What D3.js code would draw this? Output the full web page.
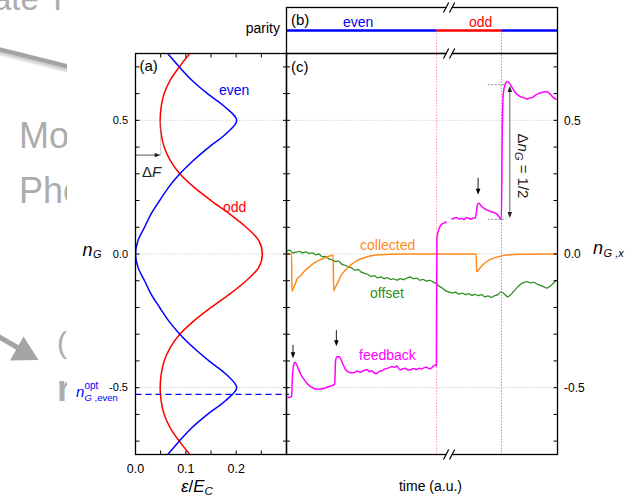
<!DOCTYPE html>
<html><head><meta charset="utf-8">
<script src="https://cdn.jsdelivr.net/npm/d3@7"></script>
<style>body{margin:0;background:#fff}svg{display:block}text{font-family:"Liberation Sans",Arial,Helvetica,sans-serif}</style>
</head><body><svg id="chart" width="633" height="497"></svg>
<script>
// ---------- data ----------
const nGrid = [-0.75,-0.70,-0.65,-0.60,-0.55,-0.50,-0.45,-0.40,-0.35,-0.30,-0.25,-0.20,-0.15,-0.10,-0.05,0,0.05,0.10,0.15,0.20,0.25,0.30,0.35,0.40,0.45,0.50,0.55,0.60,0.65,0.70,0.75];
const evenEnergy = [0.064,0.087,0.112,0.143,0.178,0.201,0.180,0.146,0.115,0.088,0.066,0.048,0.031,0.018,0.005,0.000,0.005,0.018,0.031,0.048,0.066,0.088,0.115,0.146,0.180,0.201,0.178,0.143,0.112,0.087,0.064];
const oddEnergy = [0.108,0.087,0.069,0.057,0.051,0.049,0.051,0.057,0.069,0.088,0.116,0.150,0.187,0.220,0.245,0.252,0.245,0.220,0.187,0.150,0.116,0.088,0.069,0.057,0.051,0.049,0.051,0.057,0.069,0.087,0.108];
const nGOptEven = -0.525;
const deltaF = {energy:0.05, nTop:0.5, nArrow:0.37};

const collectedTime  = [0,1.9,2.0,2.5,3.3,3.9,5.1,7.0,8.8,10.0,12.5,13.7,15.0,17.2,17.4,18.0,19.0,19.9,22.3,24.0,26.0,29.0,30.9,33.0,38.2,45.0,70.0,70.15,71.3,72.5,73.8,75.5,77.5,79.5,81.1,84.0,88.0,100];
const collectedValue = [0,0,-0.140,-0.128,-0.110,-0.093,-0.082,-0.060,-0.045,-0.035,-0.021,-0.016,-0.011,-0.005,-0.138,-0.125,-0.105,-0.085,-0.054,-0.039,-0.025,-0.013,-0.0075,-0.004,-0.001,0,0,-0.066,-0.054,-0.040,-0.029,-0.019,-0.012,-0.007,-0.004,-0.002,-0.0005,0];

const offsetTime  = [0,1.2,2.4,3.6,4.8,6,7.2,8.4,9.6,10.8,12,13.2,14.4,15.6,16.8,18,19.2,20.4,21.6,22.8,24,25.2,26.4,27.6,28.8,30,31.2,32.4,33.6,34.8,36,37.2,38.4,39.6,40.8,42,43.2,44.4,45.6,46.8,48,49.2,50.4,51.6,52.8,54,55.2,56.4,57.6,58.8,60,61.2,62.4,63.6,64.8,66,67.2,68.4,69.6,70.8,72,73.2,74.4,75.6,76.8,78,79.2,80.4,81.6,82.8,84,85.2,86.4,87.6,88.8,90,91.2,92.4,93.6,94.8,96,97.2,98.4,99.6];
const offsetValue = [0.012,0.014,0.004,0.007,0.010,0.004,0.008,0.002,0.004,-0.003,0.000,-0.010,-0.009,-0.018,-0.022,-0.028,-0.027,-0.038,-0.042,-0.048,-0.052,-0.060,-0.058,-0.068,-0.072,-0.076,-0.084,-0.081,-0.089,-0.086,-0.092,-0.088,-0.095,-0.093,-0.098,-0.092,-0.096,-0.090,-0.086,-0.092,-0.090,-0.098,-0.095,-0.101,-0.099,-0.104,-0.110,-0.121,-0.128,-0.138,-0.142,-0.146,-0.143,-0.150,-0.146,-0.152,-0.148,-0.155,-0.151,-0.156,-0.152,-0.160,-0.157,-0.162,-0.156,-0.152,-0.142,-0.150,-0.160,-0.152,-0.138,-0.124,-0.113,-0.106,-0.103,-0.108,-0.106,-0.112,-0.117,-0.122,-0.128,-0.121,-0.110,-0.098];

const feedbackTime  = [0.4,1.5,1.9,2.1,2.4,2.8,3.2,3.9,5.1,6.5,7.6,9.2,11.3,13.7,16.2,17.4,17.8,18.1,18.6,19.5,20.5,21.8,23.0,24.8,26.0,27.2,28.5,29.7,30.6,31.5,32.4,33.3,34.2,35.2,36.1,37.0,38.0,38.9,39.8,40.7,41.9,42.8,43.8,44.7,45.6,46.8,48.0,49.0,49.9,50.8,51.7,52.6,53.6,54.3,54.8,55.3,55.5,55.9,56.6,57.7,59.1,
  60.0,
  60.9,61.8,62.8,63.7,64.6,65.5,66.4,67.3,68.3,69.0,69.6,70.0,70.4,70.8,71.4,72.0,72.8,73.8,74.7,75.7,76.6,77.5,78.2,78.8,79.3,79.6,80.0,80.7,81.4,82.2,83.1,84.2,85.3,86.4,87.5,88.6,89.7,90.8,91.9,93.0,94.1,95.2,96.3,97.4,98.5,99.6];
const feedbackValue = [-0.537,-0.535,-0.530,-0.480,-0.430,-0.410,-0.405,-0.418,-0.447,-0.470,-0.484,-0.498,-0.506,-0.503,-0.494,-0.490,-0.485,-0.400,-0.384,-0.384,-0.405,-0.432,-0.442,-0.444,-0.438,-0.442,-0.436,-0.433,-0.440,-0.437,-0.445,-0.447,-0.439,-0.437,-0.431,-0.428,-0.425,-0.421,-0.424,-0.419,-0.434,-0.430,-0.427,-0.433,-0.434,-0.428,-0.432,-0.427,-0.430,-0.425,-0.424,-0.429,-0.426,-0.418,-0.416,-0.418,0.059,0.082,0.102,0.114,0.120,
  NaN,
  0.130,0.134,0.137,0.131,0.133,0.129,0.137,0.133,0.131,0.135,0.134,0.150,0.182,0.190,0.186,0.178,0.172,0.165,0.162,0.157,0.155,0.150,0.142,0.135,0.130,0.450,0.600,0.635,0.645,0.640,0.625,0.607,0.595,0.588,0.585,0.580,0.583,0.586,0.594,0.600,0.604,0.607,0.606,0.597,0.585,0.578];

const parityEdges  = [0, 55.4, 79.3, 100];
const parityStates = ["even", "odd", "even"];
const breakTime = 60;
const kickTimes = [2.4, 18.4, 70.7];
const kickFrom  = [-0.34, -0.285, 0.285];
const kickTo    = [-0.39, -0.345, 0.222];
const stepLow = 0.13, stepHigh = 0.633, stepArrowTime = 82.4;

const yTicks = [-0.7,-0.6,-0.5,-0.4,-0.3,-0.2,-0.1,0,0.1,0.2,0.3,0.4,0.5,0.6,0.7];
const yTickLabels = [-0.5, 0, 0.5];
const xATicks = [0.05,0.1,0.15,0.2,0.25];
const xATickLabels = [0, 0.1, 0.2];

// ---------- setup ----------
const svg = d3.select("#chart");
svg.append("rect").attr("width",633).attr("height",497).attr("fill","#fff");
const xA = d3.scaleLinear().domain([0,0.3]).range([135.5,286.5]);
const xC = d3.scaleLinear().domain([0,100]).range([286.5,557.5]);
const y  = d3.scaleLinear().domain([-0.75,0.75]).range([454.5,53.5]);
const yB = {top:7.5, bottom:53.5, line:30.5};
const BLUE="#0000ff", RED="#ff0000", MAG="#ff00ff", ORANGE="#ff8a1c", GREEN="#2f8f22";
const defs = svg.append("defs");
const fmt = v => d3.format(".1f")(v).replace("\u2212","-");

// ---------- faded background (slide remnants) ----------
defs.append("clipPath").attr("id","bgclip").append("rect").attr("x",0).attr("y",0).attr("width",67).attr("height",497);
defs.append("filter").attr("id","blur").append("feGaussianBlur").attr("stdDeviation",1.2);
const bg = svg.append("g").attr("clip-path","url(#bgclip)");
const gcol="#acacac";
bg.append("text").attr("x",-7).attr("y",10).attr("font-size",33).attr("fill",gcol).text("ate T");
bg.append("line").attr("x1",-2).attr("y1",51).attr("x2",70).attr("y2",69.5).attr("stroke","#d0d0d0").attr("stroke-width",6).attr("filter","url(#blur)");
bg.append("line").attr("x1",-2).attr("y1",49).attr("x2",70).attr("y2",67).attr("stroke","#a4a4a4").attr("stroke-width",4.5);
bg.append("text").attr("x",19).attr("y",148).attr("font-size",36).attr("fill",gcol).text("Mo");
bg.append("text").attr("x",19).attr("y",203).attr("font-size",36).attr("fill",gcol).text("Pho");
bg.append("line").attr("x1",-4).attr("y1",335).attr("x2",20).attr("y2",349).attr("stroke","#a4a4a4").attr("stroke-width",5);
bg.append("path").attr("d","M23.5,336.5 L10,360.5 L38.5,360 Z").attr("fill","#a4a4a4");
bg.append("text").attr("x",57).attr("y",353).attr("font-size",30).attr("fill",gcol).text("(");
bg.append("text").attr("x",57).attr("y",401).attr("font-size",36).attr("font-weight","bold").attr("fill",gcol).text("r");

// ---------- grid ----------
const grid = svg.append("g");
yTickLabels.forEach(v=>{
  grid.append("line").attr("x1",xA(0)).attr("x2",xC(100)).attr("y1",y(v)).attr("y2",y(v))
    .attr("stroke","#c8c8c8").attr("stroke-width",0.9).attr("stroke-dasharray","1,1.2");
});
const markColors=[null,"#ff9a9a","#8c8cff"];
[1,2].forEach(i=>{
  svg.append("line").attr("x1",xC(parityEdges[i])).attr("x2",xC(parityEdges[i]))
    .attr("y1",yB.line).attr("y2",y(-0.75))
    .attr("stroke",markColors[i]).attr("stroke-width",1).attr("stroke-dasharray","1.5,1.5");
});

// ---------- panel (a) curves ----------
defs.append("clipPath").attr("id","clipA").append("rect").attr("x",xA(0)).attr("y",y(0.75)).attr("width",xA(0.3)-xA(0)).attr("height",y(-0.75)-y(0.75));
const gA = svg.append("g").attr("clip-path","url(#clipA)");
const lineA = d3.line().x(d=>xA(d[1])).y(d=>y(d[0])).curve(d3.curveCatmullRom);
gA.append("path").attr("d",lineA(nGrid.map((n,i)=>[n,oddEnergy[i]]))).attr("fill","none").attr("stroke",RED).attr("stroke-width",1.5);
gA.append("path").attr("d",lineA(nGrid.map((n,i)=>[n,evenEnergy[i]]))).attr("fill","none").attr("stroke",BLUE).attr("stroke-width",1.5);

svg.append("line").attr("x1",xA(0)).attr("x2",xC(0.9)).attr("y1",y(nGOptEven)).attr("y2",y(nGOptEven))
  .attr("stroke",BLUE).attr("stroke-width",1.3).attr("stroke-dasharray","6,4");

svg.append("line").attr("x1",xA(deltaF.energy)).attr("x2",xA(deltaF.energy)).attr("y1",y(deltaF.nTop)).attr("y2",y(deltaF.nArrow))
  .attr("stroke","#888").attr("stroke-width",0.9).attr("stroke-dasharray","1,1");
svg.append("line").attr("x1",xA(0)).attr("x2",xA(deltaF.energy)-5).attr("y1",y(deltaF.nArrow)).attr("y2",y(deltaF.nArrow))
  .attr("stroke","#444").attr("stroke-width",0.9);
svg.append("path").attr("d",`M${xA(deltaF.energy)},${y(deltaF.nArrow)} l-6,-2.2 l0,4.4 Z`).attr("fill","#222");
const dfT = svg.append("text").attr("x",142).attr("y",177).attr("font-size",15).attr("fill","#222");
dfT.append("tspan").text("Δ");
dfT.append("tspan").attr("font-style","italic").text("F");

// ---------- panel (c) traces ----------
defs.append("clipPath").attr("id","clipC").append("rect").attr("x",xC(0)).attr("y",y(0.75)).attr("width",xC(100)-xC(0)).attr("height",y(-0.75)-y(0.75));
const gC = svg.append("g").attr("clip-path","url(#clipC)");
const lineC = d3.line().defined(d=>!isNaN(d[1])).x(d=>xC(d[0])).y(d=>y(d[1])).curve(d3.curveMonotoneX);
gC.append("path").attr("d",lineC(offsetTime.map((t,i)=>[t,offsetValue[i]]))).attr("fill","none").attr("stroke",GREEN).attr("stroke-width",1.3);
gC.append("path").attr("d",lineC(collectedTime.map((t,i)=>[t,collectedValue[i]]))).attr("fill","none").attr("stroke",ORANGE).attr("stroke-width",1.5);
gC.append("path").attr("d",lineC(feedbackTime.map((t,i)=>[t,feedbackValue[i]]))).attr("fill","none").attr("stroke",MAG).attr("stroke-width",1.5);

kickTimes.forEach((t,i)=>{
  const x = xC(t), y1=y(kickFrom[i]), y2=y(kickTo[i]);
  svg.append("line").attr("x1",x).attr("x2",x).attr("y1",y1).attr("y2",y2-5).attr("stroke","#000").attr("stroke-width",0.9);
  svg.append("path").attr("d",`M${x},${y2} l-2.3,-6 l4.6,0 Z`).attr("fill","#000");
});

[stepHigh, stepLow].forEach(v=>{
  svg.append("line").attr("x1",xC(74.3)).attr("x2",xC(81)).attr("y1",y(v)).attr("y2",y(v))
    .attr("stroke","#666").attr("stroke-width",0.8).attr("stroke-dasharray","2,1.5");
});
{
  const x=xC(stepArrowTime), ya=y(stepHigh-0.005), yb=y(stepLow+0.005);
  svg.append("line").attr("x1",x).attr("x2",x).attr("y1",ya+5).attr("y2",yb-5).attr("stroke","#555").attr("stroke-width",0.9);
  svg.append("path").attr("d",`M${x},${ya} l-2.3,6 l4.6,0 Z`).attr("fill","#222");
  svg.append("path").attr("d",`M${x},${yb} l-2.3,-6 l4.6,0 Z`).attr("fill","#222");
  const lt = svg.append("text").attr("transform",`translate(517.5,166) rotate(90)`).attr("text-anchor","middle").attr("font-size",15).attr("fill","#222");
  lt.append("tspan").text("Δ");
  lt.append("tspan").attr("font-style","italic").text("n");
  lt.append("tspan").attr("font-style","italic").attr("font-size",11).attr("dy",3).text("G");
  lt.append("tspan").attr("dy",-3).text(" = 1/2");
}

// ---------- panel (b) parity ----------
parityStates.forEach((s,i)=>{
  svg.append("line").attr("x1",xC(parityEdges[i])).attr("x2",xC(parityEdges[i+1])).attr("y1",yB.line).attr("y2",yB.line)
    .attr("stroke",s==="even"?BLUE:RED).attr("stroke-width",2.6);
});

// ---------- frames ----------
const fr = svg.append("g").attr("fill","none").attr("stroke","#000").attr("stroke-width",1.3);
fr.append("rect").attr("x",xA(0)).attr("y",y(0.75)).attr("width",xA(0.3)-xA(0)).attr("height",y(-0.75)-y(0.75));
fr.append("rect").attr("x",xC(0)).attr("y",y(0.75)).attr("width",xC(100)-xC(0)).attr("height",y(-0.75)-y(0.75));
fr.append("rect").attr("x",xC(0)).attr("y",yB.top).attr("width",xC(100)-xC(0)).attr("height",yB.bottom-yB.top);

[yB.top, yB.bottom, y(-0.75)].forEach(yy=>{
  const bx = xC(breakTime);
  svg.append("rect").attr("x",bx-3).attr("y",yy-1.5).attr("width",6).attr("height",3).attr("fill","#fff");
  [-3,3].forEach(dx=>{
    svg.append("line").attr("x1",bx+dx-2.6).attr("y1",yy+5).attr("x2",bx+dx+2.6).attr("y2",yy-5).attr("stroke","#000").attr("stroke-width",1.2);
  });
});

// ---------- ticks ----------
const tk = svg.append("g").attr("stroke","#000").attr("stroke-width",1);
yTicks.forEach(v=>{
  const yy=y(v);
  tk.append("line").attr("x1",xA(0)).attr("x2",xA(0)+4).attr("y1",yy).attr("y2",yy);
  tk.append("line").attr("x1",xC(0)-3.5).attr("x2",xC(0)+3.5).attr("y1",yy).attr("y2",yy);
  tk.append("line").attr("x1",xC(100)-4).attr("x2",xC(100)).attr("y1",yy).attr("y2",yy);
});
xATicks.forEach(v=>{
  const xx=xA(v);
  tk.append("line").attr("x1",xx).attr("x2",xx).attr("y1",y(0.75)).attr("y2",y(0.75)+4);
  tk.append("line").attr("x1",xx).attr("x2",xx).attr("y1",y(-0.75)).attr("y2",y(-0.75)-4);
});
yTickLabels.forEach(v=>{
  svg.append("text").attr("x",128).attr("y",y(v)+3.5).attr("text-anchor","end").attr("font-size",11).text(fmt(v));
  svg.append("text").attr("x",564).attr("y",y(v)+4.3).attr("font-size",12).text(fmt(v));
});
xATickLabels.forEach(v=>{
  svg.append("text").attr("x",xA(v)).attr("y",473).attr("text-anchor","middle").attr("font-size",12.5).text(fmt(v));
});

// ---------- labels ----------
function txt(x,yy,s,opt={}){
  const t=svg.append("text").attr("x",x).attr("y",yy).attr("font-size",opt.size||14).attr("fill",opt.fill||"#000");
  if(opt.anchor) t.attr("text-anchor",opt.anchor);
  t.text(s); return t;
}
txt(139.5,71,"(a)",{size:15});
txt(291,25,"(b)",{size:15});
txt(291,72,"(c)",{size:15});
txt(280,33,"parity",{size:14,anchor:"end"});
txt(343,26.5,"even",{size:14,fill:BLUE});
txt(469,26.5,"odd",{size:14,fill:RED});
txt(219,95,"even",{size:14,fill:BLUE});
txt(223,212,"odd",{size:14,fill:RED});
txt(360,250,"collected",{size:14,fill:ORANGE});
txt(370,298,"offset",{size:14,fill:GREEN});
txt(359,360,"feedback",{size:14,fill:MAG});
txt(430.5,491,"time (a.u.)",{size:14,anchor:"middle"});

{
  const t=svg.append("text").attr("x",82.5).attr("y",256).attr("font-size",18).attr("font-style","italic");
  t.append("tspan").text("n");
  t.append("tspan").attr("font-size",11).attr("dy",1.5).attr("dx",0.5).text("G");
}
{
  const t=svg.append("text").attr("x",593).attr("y",253.5).attr("font-size",18).attr("font-style","italic");
  t.append("tspan").text("n");
  t.append("tspan").attr("font-size",11).attr("dy",3.5).attr("dx",0.5).text("G ,x");
}
{
  const t=svg.append("text").attr("x",181).attr("y",491.5).attr("font-size",17).attr("font-style","italic");
  t.append("tspan").text("ε");
  t.append("tspan").attr("font-style","normal").text("/");
  t.append("tspan").text("E");
  t.append("tspan").attr("font-size",11.5).attr("dy",3.5).text("C");
}
{
  const g=svg.append("g").attr("fill",BLUE);
  g.append("text").attr("x",76).attr("y",397).attr("font-size",15).attr("font-style","italic").text("n");
  g.append("text").attr("x",84.5).attr("y",389).attr("font-size",10).text("opt");
  const s=g.append("text").attr("x",84.5).attr("y",400.5).attr("font-size",9.5);
  s.append("tspan").attr("font-style","italic").text("G");
  s.append("tspan").text(" ,even");
}
</script></body></html>
